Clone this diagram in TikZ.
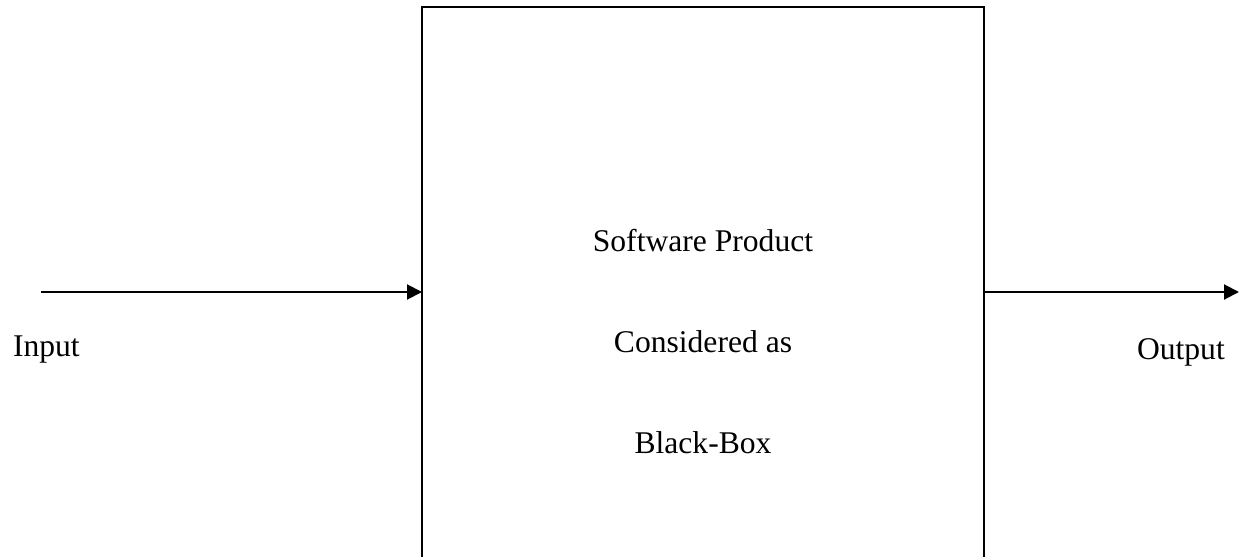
\documentclass[tikz,border=0pt]{standalone}
\usepackage{fontspec}
\setmainfont{Liberation Serif}
\usetikzlibrary{arrows.meta}
\begin{document}
\begin{tikzpicture}[x=1pt,y=-1pt,
  every node/.style={font=\fontsize{31.6}{36}\selectfont, inner sep=0pt, outer sep=0pt},
  flow/.style={line width=2pt, -{Triangle[length=15pt,width=15pt]}},
  label/.style={anchor=base},
  blackbox/.style={draw, line width=2pt, minimum width=562pt, minimum height=700pt, anchor=north west}]
  \useasboundingbox (0,0) rectangle (1243,557);
  \clip (0,0) rectangle (1243,557);

  % the product seen as a black box
  \node[blackbox] (box) at (422,7) {};
  \node[label] (l1) at (703,251) {Software Product};
  \node[label] (l2) at (703,352) {Considered as};
  \node[label] (l3) at (703,453) {Black-Box};

  % input and output
  \coordinate (inStart) at (41,292);
  \coordinate (outEnd) at (1239,292);
  \draw[flow] (inStart) -- (inStart -| box.west);
  \draw[flow] (outEnd -| box.east) -- (outEnd);
  \node[anchor=base west] (inText) at (13,356) {Input};
  \node[anchor=base west] (outText) at (1137,359) {Output};
\end{tikzpicture}
\end{document}
